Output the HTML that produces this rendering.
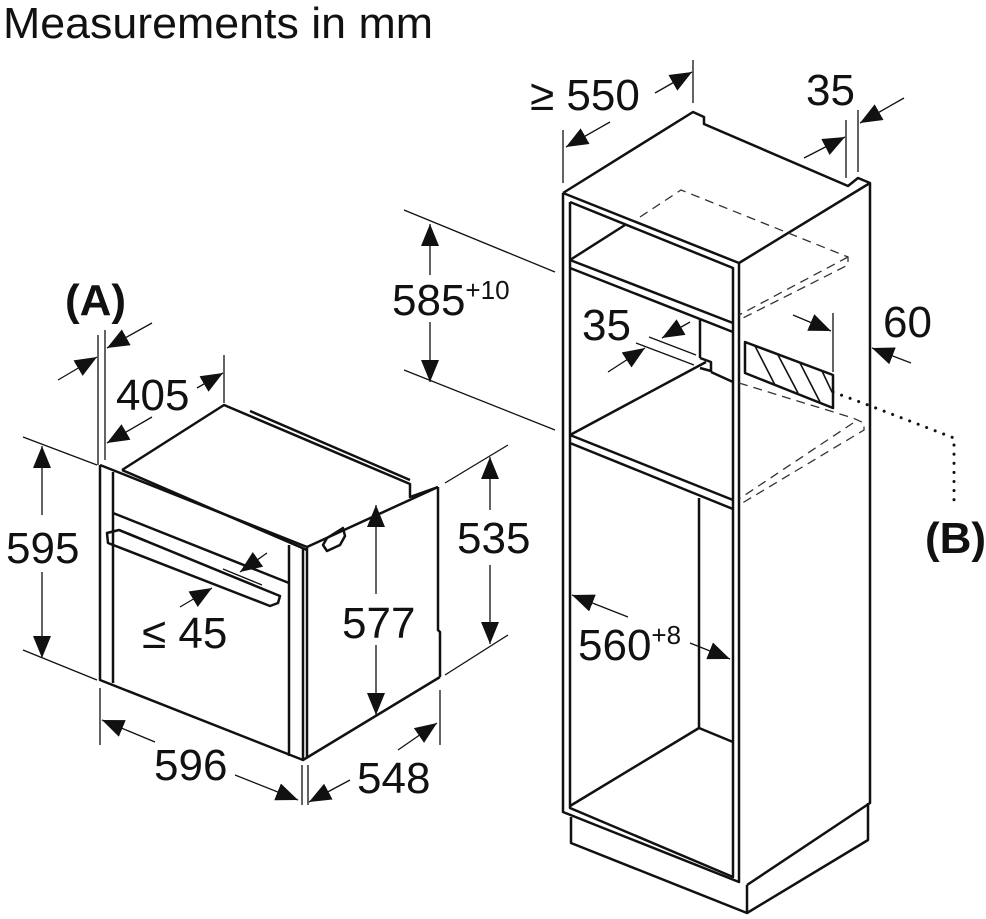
<!DOCTYPE html>
<html><head><meta charset="utf-8"><style>
html,body{margin:0;padding:0;background:#fff}
svg{display:block}
text{font-family:"Liberation Sans",sans-serif;fill:#111}
</style></head><body>
<svg width="986" height="919" viewBox="0 0 986 919" xmlns="http://www.w3.org/2000/svg">
<defs>
<marker id="a" markerUnits="userSpaceOnUse" markerWidth="24" markerHeight="18" refX="22" refY="9" orient="auto">
<path d="M0,0 L22,9 L0,18 z" fill="#111"/>
</marker>
</defs>
<text x="3" y="38" font-size="44" textLength="430" lengthAdjust="spacingAndGlyphs">Measurements in mm</text>

<g fill="none" stroke="#111" stroke-width="2.5" stroke-linejoin="round">
<polyline points="122,470 224,405 410,484 410,497 438,487"/>
<line x1="250" y1="411" x2="410" y2="480"/>
<polyline points="100,465 307,547 438,487"/>
<polyline points="100,465 100,680 303,760 440,677"/>
<line x1="113" y1="472" x2="113" y2="683"/>
<line x1="122" y1="470" x2="307" y2="550"/>
<line x1="113" y1="513" x2="289" y2="583"/>
<line x1="289" y1="545" x2="289" y2="756"/>
<line x1="303" y1="548" x2="303" y2="760"/>
<line x1="307" y1="548" x2="307" y2="758"/>
<polyline points="438,487 438,630 440,632 440,677"/>
<polygon points="107,533 119,530 280,596 278,603 270,606 108,543"/>
<line x1="119" y1="530" x2="146" y2="541"/>
<path d="M323,545 L327,538 L343,528 L345,536 L340,545 L327,551 Z"/>
</g>

<g fill="none" stroke="#111" stroke-width="1.3">
<line x1="98" y1="335" x2="98" y2="465"/>
<line x1="105" y1="330" x2="105" y2="460"/>
<line x1="58" y1="380" x2="97" y2="357" marker-end="url(#a)"/>
<line x1="152" y1="323" x2="107" y2="348" marker-end="url(#a)"/>
<line x1="224" y1="355" x2="224" y2="403"/>
<line x1="197" y1="388" x2="223" y2="373" marker-end="url(#a)"/>
<line x1="152" y1="417" x2="107" y2="443" marker-end="url(#a)"/>
<line x1="23" y1="437" x2="97" y2="465"/>
<line x1="23" y1="650" x2="97" y2="680"/>
<line x1="42" y1="515" x2="42" y2="446" marker-end="url(#a)"/>
<line x1="42" y1="572" x2="42" y2="658" marker-end="url(#a)"/>
<line x1="445" y1="483" x2="508" y2="445"/>
<line x1="445" y1="675" x2="508" y2="635"/>
<line x1="490" y1="510" x2="490" y2="457" marker-end="url(#a)"/>
<line x1="490" y1="565" x2="490" y2="644" marker-end="url(#a)"/>
<line x1="376" y1="594" x2="376" y2="505" marker-end="url(#a)"/>
<line x1="376" y1="645" x2="376" y2="715" marker-end="url(#a)"/>
<line x1="223" y1="569" x2="262" y2="585"/>
<line x1="267" y1="553" x2="240" y2="572" marker-end="url(#a)"/>
<line x1="180" y1="607" x2="212" y2="588" marker-end="url(#a)"/>
<line x1="100" y1="688" x2="100" y2="745"/>
<line x1="302" y1="765" x2="302" y2="805"/>
<line x1="308" y1="765" x2="308" y2="805"/>
<line x1="440" y1="690" x2="440" y2="745"/>
<line x1="155" y1="742" x2="102" y2="720" marker-end="url(#a)"/>
<line x1="235" y1="775" x2="298" y2="800" marker-end="url(#a)"/>
<line x1="398" y1="750" x2="437" y2="723" marker-end="url(#a)"/>
<line x1="350" y1="780" x2="309" y2="802" marker-end="url(#a)"/>
</g>

<g fill="none" stroke="#111" stroke-width="2.5" stroke-linejoin="round">
<polyline points="563,193 693,112 704,117 704,124 848,186 858,178 870,183 870,803 747,885"/>
<line x1="563" y1="193" x2="739" y2="263"/>
<line x1="739" y1="263" x2="870" y2="183"/>
<polyline points="563,193 563,812 739,882 739,263"/>
<polyline points="570,202 733,268 733,877 570,808 570,202"/>
<polyline points="571,817 571,843 747,913 868,840 868,803"/>
<line x1="747" y1="885" x2="747" y2="913"/>
<line x1="570" y1="260" x2="733" y2="323"/>
<line x1="570" y1="268" x2="733" y2="332"/>
<line x1="570" y1="260" x2="625" y2="225"/>
<line x1="700" y1="320" x2="700" y2="358"/>
<polyline points="700,358 711,362 711,371 700,368"/>
<line x1="711" y1="372" x2="733" y2="382"/>
<line x1="570" y1="435" x2="733" y2="500"/>
<line x1="570" y1="443" x2="733" y2="509"/>
<line x1="570" y1="435" x2="706" y2="362"/>
<line x1="699" y1="498" x2="699" y2="728"/>
<line x1="699" y1="728" x2="570" y2="806"/>
<line x1="699" y1="728" x2="733" y2="742"/>
<polygon points="745,342 833,375 833,408 745,373"/>
</g>
<g fill="none" stroke="#111" stroke-width="1.6">
<line x1="755" y1="346" x2="775" y2="385"/>
<line x1="778" y1="355" x2="798" y2="393"/>
<line x1="800" y1="363" x2="820" y2="402"/>
<line x1="822" y1="371" x2="832" y2="392"/>
</g>
<g fill="none" stroke="#333" stroke-width="1.3" stroke-dasharray="9,6">
<polyline points="640,217 681,190 848,257 848,265 739,320"/>
<line x1="848" y1="257" x2="739" y2="315"/>
<polyline points="739,383 853,418 864,423 864,430 739,505"/>
<line x1="853" y1="423" x2="739" y2="499"/>
</g>
<polyline points="833,392 868,405 954,438 954,508" fill="none" stroke="#111" stroke-width="3" stroke-dasharray="0.1,9" stroke-linecap="round"/>

<g fill="none" stroke="#111" stroke-width="1.3">
<line x1="563" y1="130" x2="563" y2="183"/>
<line x1="693" y1="60" x2="693" y2="103"/>
<line x1="610" y1="122" x2="566" y2="147" marker-end="url(#a)"/>
<line x1="655" y1="93" x2="692" y2="72" marker-end="url(#a)"/>
<line x1="846" y1="120" x2="846" y2="178"/>
<line x1="858" y1="110" x2="858" y2="172"/>
<line x1="804" y1="158" x2="845" y2="137" marker-end="url(#a)"/>
<line x1="904" y1="98" x2="860" y2="123" marker-end="url(#a)"/>
<line x1="404" y1="210" x2="555" y2="272"/>
<line x1="404" y1="370" x2="555" y2="430"/>
<line x1="430" y1="275" x2="430" y2="224" marker-end="url(#a)"/>
<line x1="430" y1="322" x2="430" y2="382" marker-end="url(#a)"/>
<line x1="649" y1="337" x2="696" y2="355"/>
<line x1="636" y1="343" x2="694" y2="365"/>
<line x1="690" y1="322" x2="662" y2="338" marker-end="url(#a)"/>
<line x1="608" y1="372" x2="645" y2="348" marker-end="url(#a)"/>
<line x1="833" y1="313" x2="833" y2="372"/>
<line x1="793" y1="315" x2="831" y2="331" marker-end="url(#a)"/>
<line x1="911" y1="363" x2="872" y2="348" marker-end="url(#a)"/>
<line x1="628" y1="617" x2="572" y2="595" marker-end="url(#a)"/>
<line x1="690" y1="643" x2="730" y2="659" marker-end="url(#a)"/>
</g>

<g font-size="44">
<text x="65" y="315" font-weight="bold">(A)</text>
<text x="116" y="410">405</text>
<text x="6" y="563">595</text>
<text x="457" y="553">535</text>
<text x="342" y="638">577</text>
<text x="142" y="648">≤ 45</text>
<text x="154" y="780">596</text>
<text x="357" y="793">548</text>
<text x="530" y="110">≥ 550</text>
<text x="806" y="105">35</text>
<text x="392" y="315">585<tspan font-size="26" dy="-16">+10</tspan></text>
<text x="582" y="340">35</text>
<text x="883" y="337">60</text>
<text x="578" y="660">560<tspan font-size="26" dy="-16">+8</tspan></text>
<text x="925" y="553" font-weight="bold">(B)</text>
</g>
</svg>
</body></html>
